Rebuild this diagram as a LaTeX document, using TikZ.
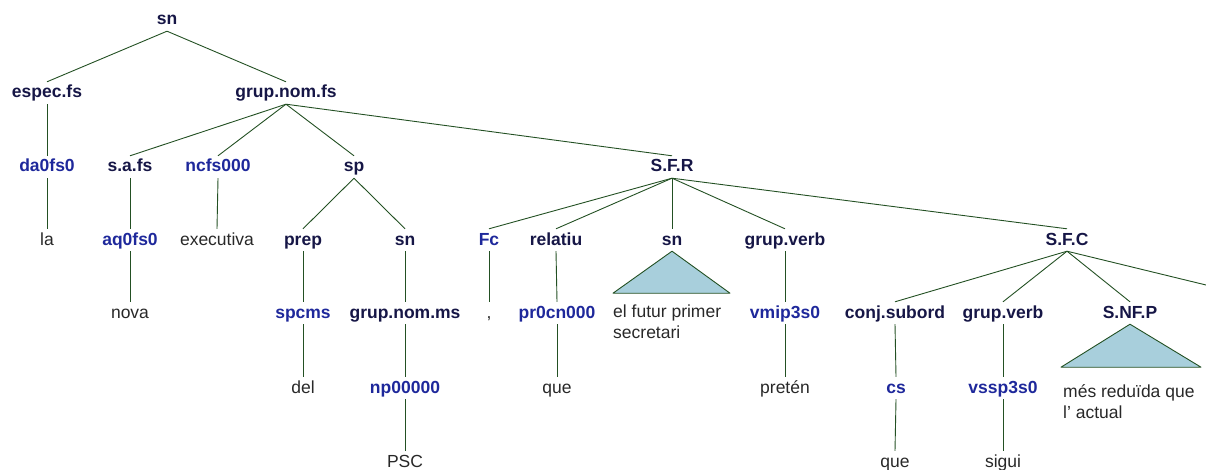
\documentclass[tikz,border=0pt]{standalone}
\usepackage{fontspec}
\setmainfont{Liberation Sans}
\definecolor{catcor}{RGB}{22,22,70}
\definecolor{tagcor}{RGB}{30,40,155}
\definecolor{palcor}{RGB}{40,40,40}
\definecolor{ramocor}{RGB}{35,80,35}
\definecolor{tricor}{RGB}{168,207,220}
\tikzset{
  rotulo/.style={font=\fontsize{17.5}{21}\selectfont, text height=14pt, text depth=4pt, inner xsep=1pt, inner ysep=2pt},
  cat/.style={rotulo, font=\fontsize{17.5}{21}\selectfont\bfseries, text=catcor},
  tag/.style={rotulo, font=\fontsize{17.5}{21}\selectfont\bfseries, text=tagcor},
  pal/.style={rotulo, text=palcor},
  frase/.style={font=\fontsize{17.5}{21}\selectfont, text=palcor, align=left, inner sep=0pt, anchor=north west},
  ramo/.style={draw=ramocor, line width=0.9pt},
  tri/.style={draw=ramocor, fill=tricor, line width=0.9pt, line join=round}
}
\begin{document}
\begin{tikzpicture}[x=1pt,y=-1pt]
  \useasboundingbox (0,0) rectangle (1206,470);

  % Raiz e primeiro nivel.
  \node[cat] (raiz) at (167,20) {sn};
  \node[cat] (espec) at (47,93) {espec.fs};
  \node[cat] (gnfs) at (286,93) {grup.nom.fs};

  % Segundo nivel.
  \node[tag] (da) at (47,167) {da0fs0};
  \node[cat] (saf) at (130,167) {s.a.fs};
  \node[tag] (ncfs) at (218,167) {ncfs000};
  \node[cat] (sp) at (354,167) {sp};
  \node[cat] (sfr) at (672,167) {S.F.R};

  % Terceiro nivel.
  \node[pal] (la) at (47,240) {la};
  \node[tag] (aq) at (130,240) {aq0fs0};
  \node[pal] (exe) at (217,240) {executiva};
  \node[cat] (prep) at (303,240) {prep};
  \node[cat] (snb) at (405,240) {sn};
  \node[tag] (fc) at (489,240) {Fc};
  \node[cat] (rel) at (556,240) {relatiu};
  \node[cat] (snt) at (672,240) {sn};
  \node[cat] (gv) at (785,240) {grup.verb};
  \node[cat] (sfc) at (1067,240) {S.F.C};

  % Quarto nivel.
  \node[pal] (nova) at (130,313) {nova};
  \node[tag] (spc) at (303,313) {spcms};
  \node[cat] (gnms) at (405,313) {grup.nom.ms};
  \node[pal] (coma) at (489,313) {,};
  \node[tag] (pr) at (557,313) {pr0cn000};
  \node[tag] (vmip) at (785,313) {vmip3s0};
  \node[cat] (conj) at (895,313) {conj.subord};
  \node[cat] (gv2) at (1003,313) {grup.verb};
  \node[cat] (snfp) at (1130,313) {S.NF.P};

  % Quinto e sexto niveis.
  \node[pal] (del) at (303,388) {del};
  \node[tag] (np) at (405,388) {np00000};
  \node[pal] (que) at (557,388) {que};
  \node[pal] (preten) at (785,388) {pretén};
  \node[tag] (cs) at (896,388) {cs};
  \node[tag] (vssp) at (1003,388) {vssp3s0};
  \node[pal] (psc) at (405,462) {PSC};
  \node[pal] (que2) at (895,462) {que};
  \node[pal] (sigui) at (1003,462) {sigui};

  % Ramo cortado na margem direita.
  \coordinate (corte) at (1206,285);

  % Ramos entre pais e filhos.
  \foreach \a/\b in {raiz/espec,raiz/gnfs,espec/da,da/la,gnfs/saf,gnfs/ncfs,gnfs/sp,gnfs/sfr,
      saf/aq,aq/nova,ncfs/exe,sp/prep,sp/snb,prep/spc,spc/del,snb/gnms,gnms/np,np/psc,
      sfr/fc,sfr/rel,sfr/snt,sfr/gv,sfr/sfc,fc/coma,rel/pr,pr/que,gv/vmip,vmip/preten,
      sfc/conj,sfc/gv2,sfc/snfp,conj/cs,cs/que2,gv2/vssp,vssp/sigui} {
    \draw[ramo] (\a.south) -- (\b.north);
  }
  \draw[ramo] (sfc.south) -- (corte);

  % Triangulos com as frases resumidas.
  \draw[tri] (snt.south) -- ++(-59,42) -- ++(117,0) -- cycle;
  \node[frase] (futur) at (613,305) {el futur primer\\secretari};
  \draw[tri] (snfp.south) -- ++(-69,43) -- ++(140,0) -- cycle;
  \node[frase] (reduida) at (1063,384) {més reduïda que\\l’ actual};
\end{tikzpicture}
\end{document}
